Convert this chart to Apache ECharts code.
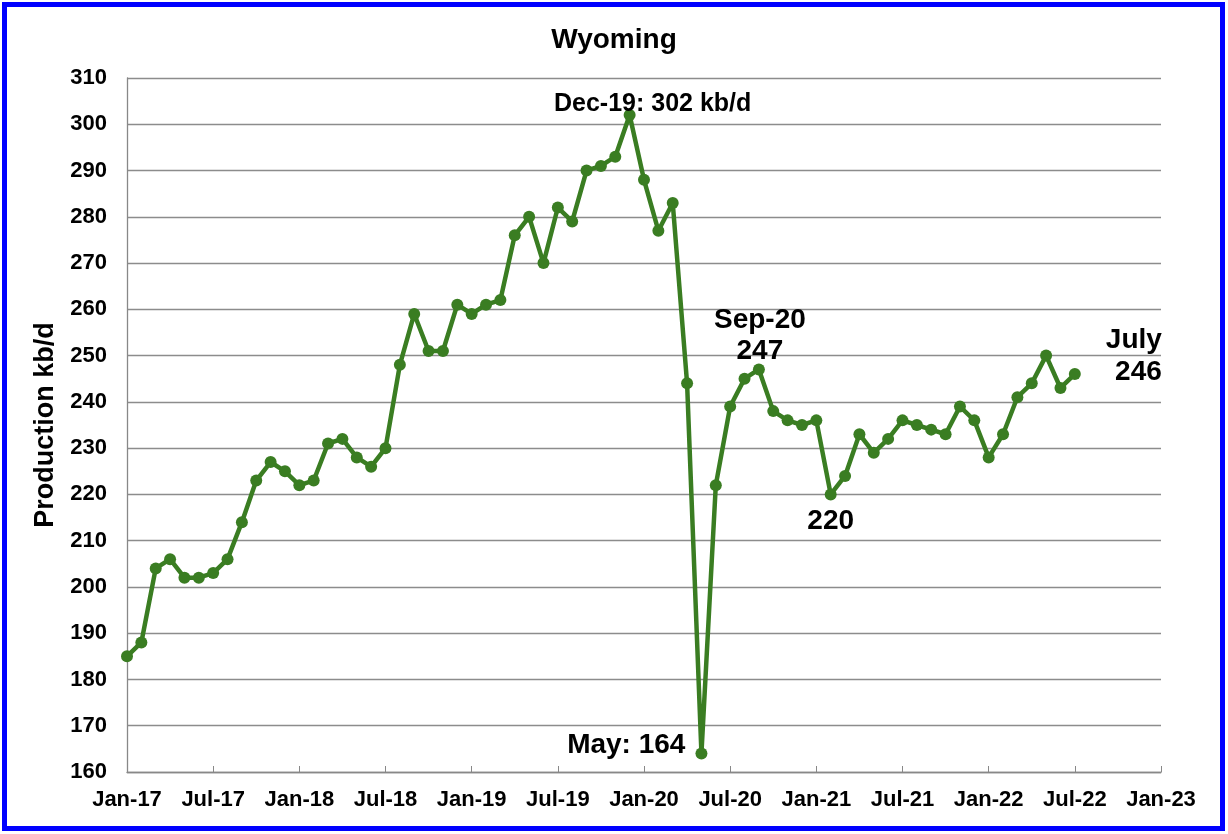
<!DOCTYPE html>
<html>
<head>
<meta charset="utf-8">
<script src="https://cdn.jsdelivr.net/npm/echarts@6/dist/echarts.min.js"></script>
<style>
html,body{margin:0;padding:0;background:#fff;}
#chart{width:1228px;height:834px;}
</style>
</head>
<body>
<div id="chart"></div>
<script>
// Month categories Jan-17 .. Jan-23 (axis extent)
const months = [
 'Jan-17','Feb-17','Mar-17','Apr-17','May-17','Jun-17','Jul-17','Aug-17','Sep-17','Oct-17','Nov-17','Dec-17',
 'Jan-18','Feb-18','Mar-18','Apr-18','May-18','Jun-18','Jul-18','Aug-18','Sep-18','Oct-18','Nov-18','Dec-18',
 'Jan-19','Feb-19','Mar-19','Apr-19','May-19','Jun-19','Jul-19','Aug-19','Sep-19','Oct-19','Nov-19','Dec-19',
 'Jan-20','Feb-20','Mar-20','Apr-20','May-20','Jun-20','Jul-20','Aug-20','Sep-20','Oct-20','Nov-20','Dec-20',
 'Jan-21','Feb-21','Mar-21','Apr-21','May-21','Jun-21','Jul-21','Aug-21','Sep-21','Oct-21','Nov-21','Dec-21',
 'Jan-22','Feb-22','Mar-22','Apr-22','May-22','Jun-22','Jul-22','Aug-22','Sep-22','Oct-22','Nov-22','Dec-22',
 'Jan-23'
];
// Wyoming oil production, kb/d (Jan-17 .. Jul-22)
const production = [
 185,188,204,206,202,202,203,206,214,223,227,225,
 222,223,231,232,228,226,230,248,259,251,251,261,
 259,261,262,276,280,270,282,279,290,291,293,302,
 288,277,283,244,164,222,239,245,247,238,236,235,
 236,220,224,233,229,232,236,235,234,233,239,236,
 228,233,241,244,250,243,246
];
const yTicks = {min:160, max:310, interval:10};
const annotations = [
 {month:'Dec-19', value:302, text:'Dec-19: 302 kb/d'},
 {month:'Sep-20', value:247, text:'Sep-20\n247'},
 {month:'May-20', value:164, text:'May: 164'},
 {month:'Feb-21', value:220, text:'220'},
 {month:'Jul-22', value:246, text:'July\n246'}
];

const FONT = '"Liberation Sans", Arial, sans-serif';
const chart = echarts.init(document.getElementById('chart'), null, {renderer:'canvas'});

const annStyles = {
 'Dec-19': {offset:[23,-11], fontSize:25, align:'center', lineHeight:28},
 'Sep-20': {offset:[1,-34], fontSize:28, align:'center', lineHeight:31},
 'May-20': {offset:[-16,-8], fontSize:28, align:'right', lineHeight:30},
 'Feb-21': {offset:[0,27], fontSize:28, align:'center', lineHeight:30},
 'Jul-22': {offset:[87,-18], fontSize:28, align:'right', lineHeight:32}
};

chart.setOption({
 animation:false,
 backgroundColor:'#ffffff',
 title:{
  text:'Wyoming', left:'center', top:21,
  textStyle:{fontFamily:FONT, fontSize:28, fontWeight:'bold', color:'#000'}
 },
 graphic:[{
  type:'rect', silent:true,
  shape:{x:4.5, y:4.5, width:1218, height:824},
  style:{fill:'none', stroke:'#0000ff', lineWidth:5}
 }],
 grid:{left:127, right:67, top:78, bottom:62, containLabel:false},
 xAxis:{
  type:'category', data:months, boundaryGap:false,
  axisLine:{lineStyle:{color:'#888', width:1.3}},
  axisTick:{inside:true, length:6, interval:5, lineStyle:{color:'#888'}},
  axisLabel:{interval:5, margin:17, fontFamily:FONT, fontSize:22, fontWeight:'bold', color:'#000'},
  splitLine:{show:false}
 },
 yAxis:{
  type:'value', min:yTicks.min, max:yTicks.max, interval:yTicks.interval,
  name:'Production kb/d', nameLocation:'middle', nameGap:68,
  nameTextStyle:{fontFamily:FONT, fontSize:27, fontWeight:'bold', color:'#000'},
  axisLine:{show:true, lineStyle:{color:'#888', width:1.3}},
  axisTick:{show:false},
  axisLabel:{margin:20, fontFamily:FONT, fontSize:22, fontWeight:'bold', color:'#000'},
  splitLine:{lineStyle:{color:'#8c8c8c', width:1.3}}
 },
 series:[{
  type:'line', data:production,
  symbol:'circle', symbolSize:12, showSymbol:true, showAllSymbol:true,
  lineStyle:{color:'#3a7d22', width:4.5},
  itemStyle:{color:'#3a7d22'},
  z:3,
  markPoint:{
   symbol:'circle', symbolSize:0,
   data: annotations.map(a => {
    const s = annStyles[a.month];
    return {
     coord:[a.month, a.value], value:a.value,
     label:{
      show:true, position:'inside', formatter:a.text,
      offset:s.offset, align:s.align, verticalAlign:'middle',
      fontFamily:FONT, fontSize:s.fontSize, fontWeight:'bold', color:'#000',
      lineHeight:s.lineHeight
     }
    };
   })
  }
 }]
});
</script>
</body>
</html>
